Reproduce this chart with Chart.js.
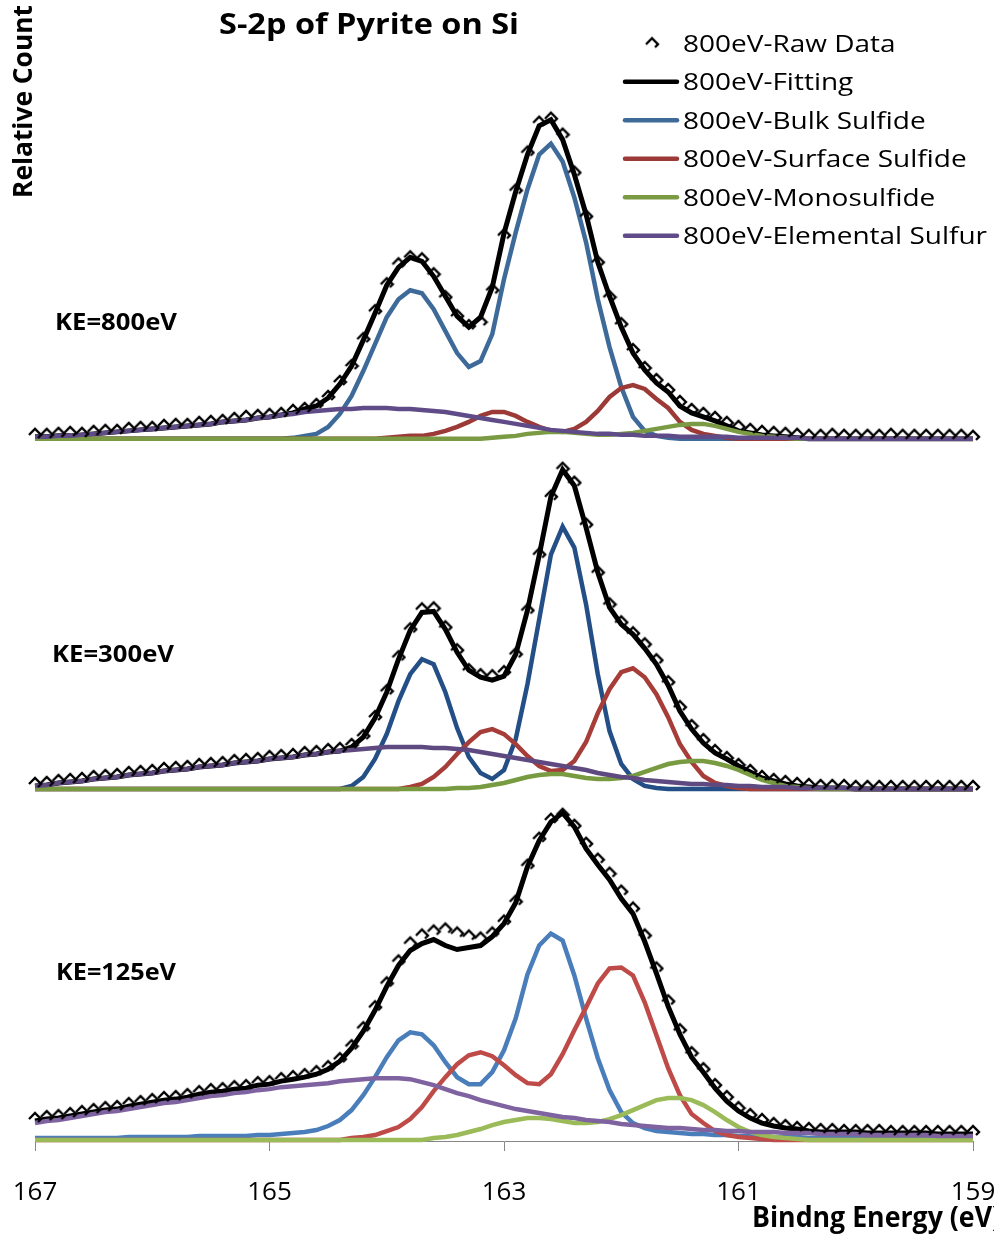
<!DOCTYPE html>
<html>
<head>
<meta charset="utf-8">
<title>S-2p of Pyrite on Si</title>
<script src="https://cdn.jsdelivr.net/npm/chart.js@4.4.1/dist/chart.umd.min.js"></script>
<style>
  html, body { margin: 0; padding: 0; background: #fff; }
  #wrap { width: 994px; height: 1234px; }
</style>
</head>
<body>
<div id="wrap"><canvas id="s2p-chart" width="994" height="1234"></canvas></div>
<script>
(function () {
    'use strict';

    // Binding energy (eV), one point every 0.1 eV
    var ENERGY = [
        167.0, 166.9, 166.8, 166.7, 166.6, 166.5, 166.4, 166.3, 166.2, 166.1,
        166.0, 165.9, 165.8, 165.7, 165.6, 165.5, 165.4, 165.3, 165.2, 165.1,
        165.0, 164.9, 164.8, 164.7, 164.6, 164.5, 164.4, 164.3, 164.2, 164.1,
        164.0, 163.9, 163.8, 163.7, 163.6, 163.5, 163.4, 163.3, 163.2, 163.1,
        163.0, 162.9, 162.8, 162.7, 162.6, 162.5, 162.4, 162.3, 162.2, 162.1,
        162.0, 161.9, 161.8, 161.7, 161.6, 161.5, 161.4, 161.3, 161.2, 161.1,
        161.0, 160.9, 160.8, 160.7, 160.6, 160.5, 160.4, 160.3, 160.2, 160.1,
        160.0, 159.9, 159.8, 159.7, 159.6, 159.5, 159.4, 159.3, 159.2, 159.1,
        159.0
    ];
    var X_TICKS = [167, 165, 163, 161, 159];

    var SERIES_NAMES = ['Raw Data', 'Fitting', 'Bulk Sulfide', 'Surface Sulfide', 'Monosulfide', 'Elemental Sulfur'];

    // ---- KE = 800 eV ----
    var RAW_800 = [
        5, 5, 6, 7, 6, 8, 9, 9, 11, 12,
        12, 14, 15, 15, 17, 18, 19, 21, 23, 24,
        25, 26, 29, 31, 35, 43, 58, 74, 101, 129,
        156, 176, 183, 181, 166, 143, 124, 114, 118, 150,
        205, 250, 288, 318, 322, 306, 268, 224, 178, 143,
        116, 90, 72, 60, 50, 38, 30, 26, 22, 17,
        13, 10, 8, 7, 6, 5, 4, 4, 5, 4,
        4, 4, 4, 5, 4, 4, 4, 4, 4, 4,
        3
    ];
    var FIT_800 = [
        2, 2, 3, 3, 4, 5, 6, 7, 8, 9,
        10, 11, 12, 13, 14, 15, 17, 18, 19, 21,
        22, 24, 26, 30, 33, 41, 55, 73, 99, 126,
        154, 172, 182, 178, 163, 143, 123, 112, 122, 152,
        206, 248, 285, 314, 320, 300, 265, 225, 177, 143,
        112, 86, 69, 56, 47, 33, 26, 22, 18, 13,
        8, 6, 4, 3, 2, 1, 0, 0, 0, 0,
        0, 0, 0, 0, 0, 0, 0, 0, 0, 0,
        0
    ];
    var BULK_800 = [
        0, 0, 0, 0, 0, 0, 0, 0, 0, 0,
        0, 0, 0, 0, 0, 0, 0, 0, 0, 0,
        0, 0, 1, 3, 5, 12, 25, 43, 68, 95,
        122, 140, 149, 146, 130, 108, 86, 72, 78, 105,
        160, 207, 250, 285, 296, 278, 242, 197, 140, 92,
        52, 22, 8, 3, 1, 0, 0, 0, 0, 0,
        0, 0, 0, 0, 0, 0, 0, 0, 0, 0,
        0, 0, 0, 0, 0, 0, 0, 0, 0, 0,
        0
    ];
    var SURF_800 = [
        0, 0, 0, 0, 0, 0, 0, 0, 0, 0,
        0, 0, 0, 0, 0, 0, 0, 0, 0, 0,
        0, 0, 0, 0, 0, 0, 0, 0, 0, 0,
        1, 2, 3, 3, 5, 8, 12, 17, 23, 27,
        27, 23, 17, 12, 8, 7, 10, 17, 28, 42,
        51, 54, 50, 40, 31, 17, 9, 5, 3, 1,
        0, 0, 0, 0, 0, 0, 0, 0, 0, 0,
        0, 0, 0, 0, 0, 0, 0, 0, 0, 0,
        0
    ];
    var MONO_800 = [
        0, 0, 0, 0, 0, 0, 0, 0, 0, 0,
        0, 0, 0, 0, 0, 0, 0, 0, 0, 0,
        0, 0, 0, 0, 0, 0, 0, 0, 0, 0,
        0, 0, 0, 0, 0, 0, 0, 0, 0, 1,
        2, 3, 5, 6, 7, 7, 6, 5, 4, 4,
        5, 6, 8, 10, 12, 14, 15, 15, 13, 10,
        7, 5, 3, 2, 1, 0, 0, 0, 0, 0,
        0, 0, 0, 0, 0, 0, 0, 0, 0, 0,
        0
    ];
    var ELEM_800 = [
        2, 2, 3, 3, 4, 5, 6, 7, 8, 9,
        10, 11, 12, 13, 14, 15, 17, 18, 19, 21,
        22, 24, 25, 27, 28, 29, 30, 30, 31, 31,
        31, 30, 30, 29, 28, 27, 25, 23, 21, 19,
        17, 15, 13, 11, 9, 8, 7, 6, 5, 5,
        4, 4, 3, 3, 3, 2, 2, 2, 2, 2,
        1, 1, 1, 1, 1, 1, 0, 0, 0, 0,
        0, 0, 0, 0, 0, 0, 0, 0, 0, 0,
        0
    ];

    // ---- KE = 300 eV ----
    var RAW_300 = [
        6, 7, 9, 10, 11, 13, 14, 15, 17, 18,
        19, 21, 22, 23, 25, 26, 27, 29, 30, 31,
        33, 34, 35, 37, 38, 40, 41, 45, 54, 73,
        99, 133, 161, 181, 182, 163, 140, 120, 115, 114,
        118, 136, 180, 236, 294, 322, 308, 266, 218, 186,
        168, 157, 146, 130, 108, 83, 64, 50, 39, 32,
        25, 19, 13, 10, 8, 6, 5, 4, 4, 4,
        3, 3, 3, 3, 3, 3, 3, 3, 3, 3,
        3
    ];
    var FIT_300 = [
        3, 4, 6, 7, 8, 10, 11, 12, 14, 15,
        16, 18, 19, 20, 22, 23, 24, 26, 27, 28,
        30, 31, 32, 34, 35, 37, 38, 42, 52, 71,
        97, 130, 159, 177, 178, 160, 137, 119, 112, 109,
        113, 135, 179, 234, 293, 320, 304, 262, 217, 182,
        165, 155, 141, 125, 104, 78, 60, 46, 36, 30,
        23, 17, 11, 8, 5, 3, 2, 1, 1, 1,
        0, 0, 0, 0, 0, 0, 0, 0, 0, 0,
        0
    ];
    var BULK_300 = [
        0, 0, 0, 0, 0, 0, 0, 0, 0, 0,
        0, 0, 0, 0, 0, 0, 0, 0, 0, 0,
        0, 0, 0, 0, 0, 0, 0, 3, 12, 30,
        55, 88, 115, 130, 125, 97, 61, 32, 16, 10,
        19, 50, 105, 170, 235, 263, 242, 185, 115, 58,
        25, 10, 3, 1, 0, 0, 0, 0, 0, 0,
        0, 0, 0, 0, 0, 0, 0, 0, 0, 0,
        0, 0, 0, 0, 0, 0, 0, 0, 0, 0,
        0
    ];
    var SURF_300 = [
        0, 0, 0, 0, 0, 0, 0, 0, 0, 0,
        0, 0, 0, 0, 0, 0, 0, 0, 0, 0,
        0, 0, 0, 0, 0, 0, 0, 0, 0, 0,
        0, 0, 2, 5, 12, 22, 35, 47, 57, 60,
        55, 45, 33, 23, 18, 19, 28, 47, 76, 100,
        117, 121, 112, 95, 72, 45, 27, 13, 6, 3,
        1, 0, 0, 0, 0, 0, 0, 0, 0, 0,
        0, 0, 0, 0, 0, 0, 0, 0, 0, 0,
        0
    ];
    var MONO_300 = [
        0, 0, 0, 0, 0, 0, 0, 0, 0, 0,
        0, 0, 0, 0, 0, 0, 0, 0, 0, 0,
        0, 0, 0, 0, 0, 0, 0, 0, 0, 0,
        0, 0, 0, 0, 0, 0, 1, 1, 2, 4,
        6, 9, 12, 14, 15, 15, 13, 11, 10, 10,
        11, 13, 17, 21, 25, 27, 28, 28, 26, 23,
        19, 14, 9, 6, 3, 2, 1, 0, 0, 0,
        0, 0, 0, 0, 0, 0, 0, 0, 0, 0,
        0
    ];
    var ELEM_300 = [
        3, 4, 6, 7, 8, 10, 11, 12, 14, 15,
        16, 18, 19, 20, 22, 23, 24, 26, 27, 28,
        30, 31, 32, 34, 35, 37, 38, 39, 40, 41,
        42, 42, 42, 42, 41, 41, 40, 39, 37, 35,
        33, 31, 29, 27, 25, 23, 21, 19, 16, 14,
        12, 11, 9, 8, 7, 6, 5, 5, 4, 4,
        3, 3, 2, 2, 2, 1, 1, 1, 1, 1,
        0, 0, 0, 0, 0, 0, 0, 0, 0, 0,
        0
    ];

    // ---- KE = 125 eV ----
    var RAW_125 = [
        22, 24, 25, 27, 29, 31, 33, 34, 37, 39,
        41, 43, 44, 46, 49, 51, 52, 54, 55, 58,
        59, 62, 64, 66, 69, 74, 82, 95, 113, 134,
        158, 180, 198, 206, 210, 212, 208, 205, 203, 208,
        220, 240, 276, 303, 322, 327, 316, 298, 282, 268,
        250, 233, 206, 173, 140, 111, 88, 72, 56, 44,
        33, 26, 21, 17, 15, 13, 12, 11, 11, 10,
        10, 10, 10, 9, 9, 9, 9, 9, 9, 9,
        9
    ];
    var FIT_125 = [
        19, 21, 22, 24, 26, 28, 30, 31, 34, 36,
        38, 40, 41, 43, 46, 48, 49, 51, 52, 55,
        56, 59, 61, 63, 66, 71, 79, 92, 109, 130,
        154, 175, 190, 197, 201, 195, 191, 193, 195, 204,
        217, 238, 274, 300, 319, 328, 314, 292, 276, 261,
        242, 227, 199, 167, 134, 106, 83, 68, 52, 39,
        29, 22, 17, 14, 12, 11, 9, 8, 8, 8,
        8, 7, 7, 7, 7, 7, 7, 6, 6, 6,
        6
    ];
    var BULK_125 = [
        2, 2, 2, 2, 2, 2, 2, 2, 3, 3,
        3, 3, 3, 3, 4, 4, 4, 4, 4, 5,
        5, 6, 7, 8, 10, 14, 20, 30, 45, 63,
        83, 100, 108, 106, 95, 78, 63, 56, 56, 68,
        90, 122, 166, 195, 207, 200, 165, 122, 82, 50,
        28, 17, 12, 9, 8, 7, 6, 6, 5, 5,
        4, 4, 3, 3, 3, 3, 2, 2, 2, 2,
        2, 2, 2, 2, 2, 2, 2, 2, 2, 2,
        2
    ];
    var SURF_125 = [
        0, 0, 0, 0, 0, 0, 0, 0, 0, 0,
        0, 0, 0, 0, 0, 0, 0, 0, 0, 0,
        0, 0, 0, 0, 0, 0, 0, 2, 3, 5,
        9, 13, 21, 33, 49, 63, 76, 85, 88, 84,
        75, 65, 57, 56, 66, 86, 110, 133, 157, 172,
        173, 165, 138, 105, 72, 45, 26, 17, 9, 5,
        3, 2, 1, 0, 0, 0, 0, 0, 0, 0,
        0, 0, 0, 0, 0, 0, 0, 0, 0, 0,
        0
    ];
    var MONO_125 = [
        0, 0, 0, 0, 0, 0, 0, 0, 0, 0,
        0, 0, 0, 0, 0, 0, 0, 0, 0, 0,
        0, 0, 0, 0, 0, 0, 0, 0, 0, 0,
        0, 0, 0, 0, 2, 3, 5, 8, 11, 15,
        18, 20, 22, 22, 21, 19, 17, 17, 18, 21,
        25, 30, 35, 40, 42, 42, 40, 35, 28, 20,
        13, 8, 5, 3, 2, 1, 0, 0, 0, 0,
        0, 0, 0, 0, 0, 0, 0, 0, 0, 0,
        0
    ];
    var ELEM_125 = [
        17, 19, 20, 22, 24, 26, 28, 29, 31, 33,
        35, 37, 38, 40, 42, 44, 45, 47, 48, 50,
        51, 53, 54, 55, 56, 57, 59, 60, 61, 62,
        62, 62, 61, 58, 55, 51, 47, 44, 40, 37,
        34, 31, 29, 27, 25, 23, 22, 20, 19, 18,
        16, 15, 14, 13, 12, 12, 11, 10, 10, 9,
        9, 8, 8, 8, 7, 7, 7, 6, 6, 6,
        6, 5, 5, 5, 5, 5, 5, 4, 4, 4,
        4
    ];

    // line colours per spectrum: fit, bulk, surface, mono, elemental
    var COLORS = {
        '800eV': ['#000000', '#3d6a99', '#9b3a37', '#7a9a43', '#5f4b87'],
        '300eV': ['#000000', '#234f86', '#a63d39', '#789a40', '#5e4a80'],
        '125eV': ['#000000', '#4a7ebb', '#be4b48', '#9bbb59', '#7e63a0']
    };

    var SPECTRA = [
        { ke: '800eV', axis: 'y800', series: [RAW_800, FIT_800, BULK_800, SURF_800, MONO_800, ELEM_800] },
        { ke: '300eV', axis: 'y300', series: [RAW_300, FIT_300, BULK_300, SURF_300, MONO_300, ELEM_300] },
        { ke: '125eV', axis: 'y125', series: [RAW_125, FIT_125, BULK_125, SURF_125, MONO_125, ELEM_125] }
    ];

    var FONT = '"Open Sans", "Noto Sans", sans-serif';

    function makeMarker() {
        var c = document.createElement('canvas');
        c.width = 16;
        c.height = 16;
        var g = c.getContext('2d');
        g.strokeStyle = '#000';
        g.lineWidth = 2.4;
        g.lineJoin = 'miter';
        g.beginPath();
        g.moveTo(2, 9);
        g.lineTo(8, 3);
        g.lineTo(14, 9);
        g.lineTo(11, 12);
        g.stroke();
        return c;
    }
    var MARKER = makeMarker();

    function points(values) {
        return ENERGY.map(function (e, i) { return { x: e, y: values[i] }; });
    }

    // topmost first: raw markers, elemental, mono, surface, bulk, fit
    var DRAW_ORDER = [0, 5, 4, 3, 2, 1];
    var datasets = [];
    SPECTRA.forEach(function (sp) {
        DRAW_ORDER.forEach(function (k) {
            var ds = {
                label: sp.ke + '-' + SERIES_NAMES[k],
                data: points(sp.series[k]),
                yAxisID: sp.axis,
                clip: false
            };
            if (k === 0) {
                ds.showLine = false;
                ds.pointStyle = MARKER;
                ds.pointRadius = 7;
                ds.borderColor = '#000';
                ds.backgroundColor = '#000';
            } else {
                ds.borderColor = COLORS[sp.ke][k - 1];
                ds.borderWidth = k === 1 ? 5 : 4.5;
                ds.pointRadius = 0;
                ds.tension = 0;
                ds.fill = false;
            }
            datasets.push(ds);
        });
    });

    // text drawn with a horizontal squeeze so it spans the given width
    function fitText(ctx, text, x, y, width, font, rotate, measureText) {
        ctx.save();
        ctx.font = font;
        ctx.fillStyle = '#000';
        ctx.textAlign = 'left';
        ctx.textBaseline = 'alphabetic';
        var sx = width / ctx.measureText(measureText || text).width;
        ctx.translate(x, y);
        if (rotate) ctx.rotate(rotate);
        ctx.scale(sx, 1);
        ctx.fillText(text, 0, 0);
        ctx.restore();
    }

    var textPlugin = {
        id: 'textLayer',
        afterDraw: function (chart) {
            var ctx = chart.ctx;
            fitText(ctx, 'S-2p of Pyrite on Si', 219, 34, 300, 'bold 29px ' + FONT);
            fitText(ctx, 'Relative Count', 32, 198, 193, 'bold 27px ' + FONT, -Math.PI / 2);
            fitText(ctx, 'Bindng Energy (eV)', 752, 1227, 240, 'bold 28px ' + FONT, 0, 'Bindng Energy (eV');
            fitText(ctx, 'KE=800eV', 55, 330, 122, 'bold 24px ' + FONT);
            fitText(ctx, 'KE=300eV', 52, 662, 122, 'bold 24px ' + FONT);
            fitText(ctx, 'KE=125eV', 56, 980, 120, 'bold 24px ' + FONT);

            // legend (800 eV series only)
            var font = '24px ' + FONT;
            ctx.save();
            ctx.font = font;
            var longest = '800eV-' + SERIES_NAMES[5];
            var sx = 304 / ctx.measureText(longest).width;
            ctx.restore();
            SERIES_NAMES.forEach(function (name, k) {
                var cy = 43.3 + k * 38.5;
                if (k === 0) {
                    ctx.drawImage(MARKER, 652 - 8, cy - 8);
                } else {
                    ctx.save();
                    ctx.strokeStyle = COLORS['800eV'][k - 1];
                    ctx.lineWidth = 4.5;
                    ctx.lineCap = 'round';
                    ctx.beginPath();
                    ctx.moveTo(625, cy);
                    ctx.lineTo(677, cy);
                    ctx.stroke();
                    ctx.restore();
                }
                var label = '800eV-' + name;
                ctx.save();
                ctx.font = font;
                var w = ctx.measureText(label).width * sx;
                ctx.restore();
                fitText(ctx, label, 683, cy + 8.5, w, font);
            });
        }
    };

    new Chart(document.getElementById('s2p-chart').getContext('2d'), {
        type: 'line',
        data: { datasets: datasets },
        options: {
            responsive: false,
            animation: false,
            layout: { padding: { left: 35, right: 21, top: 5, bottom: 0 } },
            plugins: {
                legend: { display: false },
                tooltip: { enabled: false },
                title: { display: false }
            },
            scales: {
                x: {
                    type: 'linear',
                    reverse: true,
                    min: 159,
                    max: 167,
                    afterFit: function (s) {
                        s.height = 93;
                        s.paddingLeft = 0;
                        s.paddingRight = 0;
                    },
                    afterBuildTicks: function (s) {
                        s.ticks = X_TICKS.map(function (v) { return { value: v }; });
                    },
                    border: { color: '#868686', width: 1 },
                    grid: { drawOnChartArea: false, drawTicks: true, tickLength: 10, color: '#868686' },
                    ticks: {
                        color: '#000',
                        font: { family: FONT, size: 26 },
                        padding: 26,
                        maxRotation: 0,
                        autoSkip: false
                    }
                },
                y125: { type: 'linear', position: 'left', stack: 'spectra', stackWeight: 350, min: -1, max: 349, display: false },
                y300: { type: 'linear', position: 'left', stack: 'spectra', stackWeight: 353, min: -3, max: 350, display: false },
                y800: { type: 'linear', position: 'left', stack: 'spectra', stackWeight: 433, min: -1, max: 432, display: false }
            }
        },
        plugins: [textPlugin]
    });
})();
</script>
</body>
</html>
